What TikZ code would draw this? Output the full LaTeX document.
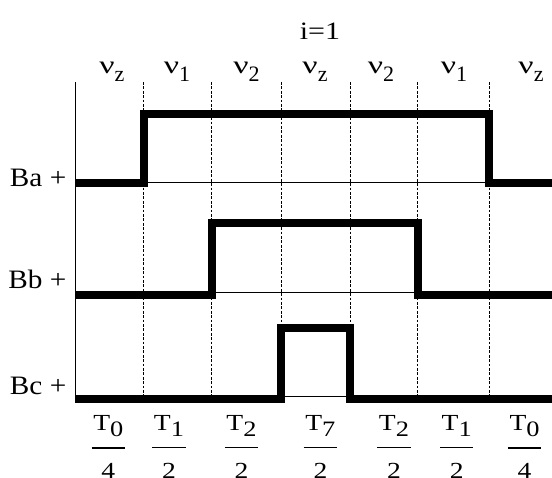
\documentclass[tikz,border=0pt]{standalone}
\usepackage{graphicx}
\usepackage{fontspec}
\setmainfont{Liberation Serif}
\usetikzlibrary{positioning}
% sector vector: wide nu with lowered index
\newcommand{\vlab}[1]{\fontsize{12.5}{14}\selectfont\scalebox{1.35}[1]{ν}\raisebox{-4pt}{\fontsize{11}{13}\selectfont #1}}
% sector duration as a stacked fraction
\newcommand{\durfrac}[2]{\vbox{\baselineskip=0pt\lineskip=0pt\lineskiplimit=0pt
  \halign{\hfil##\hfil\cr \scalebox{1.2}[1]{T\raisebox{-3.3pt}{\fontsize{11}{13}\selectfont #1}}\cr
  \noalign{\kern 4.95pt}\rule{16.7pt}{0.8pt}\cr\noalign{\kern 7.4pt}\scalebox{1.2}[1]{#2}\cr}}}

\begin{document}
\begin{tikzpicture}[x=0.5pt,y=-0.5pt, every node/.style={inner sep=0pt}]
\tikzset{wave/.style={line width=4pt,line join=miter},
  slot/.style={line width=0.5pt,dash pattern=on 1.4pt off 0.8pt},
  level/.style={line width=0.5pt},
  phase/.style={anchor=base east,font=\fontsize{13.3}{15}\selectfont},
  sector/.style={anchor=base},
  dur/.style={anchor=base,font=\fontsize{11.5}{14}\selectfont}}
\useasboundingbox (0,0) rectangle (552,477);
% axis and sector boundaries
\draw[level] (75.7,82) -- (75.7,403);
\draw[slot] (143.7,82) -- (143.7,396);
\draw[slot] (211.7,82) -- (211.7,396);
\draw[slot] (281,82) -- (281,396);
\draw[slot] (350,82) -- (350,396);
\draw[slot] (417.5,82) -- (417.5,396);
\draw[slot] (489,82) -- (489,396);
% phase levels
\draw[level] (75.7,182) -- (552,182);
\draw[level] (75.7,292) -- (552,292);
\draw[level] (75.7,396) -- (552,396);
% switching pulses
\draw[wave] (75.7,183) -- (143.7,183) -- (143.7,114) -- (489,114) -- (489,183) -- (556,183);
\draw[wave] (75.7,295) -- (211.7,295) -- (211.7,223) -- (417.5,223) -- (417.5,295) -- (556,295);
\draw[wave] (75.7,399) -- (281,399) -- (281,328) -- (350,328) -- (350,399) -- (556,399);
% labels
\node[anchor=base,font=\fontsize{12.5}{14}\selectfont] (title) at (320,39.3) {\scalebox{1.2}[1]{i=1}};
\node[phase] (ba) at (66.7,186) {\scalebox{1.1}[1]{Ba +}};
\node[phase] (bb) at (66.7,288) {\scalebox{1.1}[1]{Bb +}};
\node[phase] (bc) at (66.7,394) {\scalebox{1.1}[1]{Bc +}};
\node[sector] (vz0) at (111.9,73.3) {\vlab{z}};
\node[sector] (v10) at (177,73.3) {\vlab{1}};
\node[sector] (v20) at (246.6,73.3) {\vlab{2}};
\node[sector] (vz1) at (315,73.3) {\vlab{z}};
\node[sector] (v21) at (381,73.3) {\vlab{2}};
\node[sector] (v11) at (454,73.3) {\vlab{1}};
\node[sector] (vz2) at (531,73.3) {\vlab{z}};
% sector durations
\node[dur] (t00) at (108.3,478.5) {\durfrac{0}{4}};
\node[dur] (t10) at (169,478.5) {\durfrac{1}{2}};
\node[dur] (t20) at (241.5,478.5) {\durfrac{2}{2}};
\node[dur] (t7) at (320.4,478.5) {\durfrac{7}{2}};
\node[dur] (t21) at (394,478.5) {\durfrac{2}{2}};
\node[dur] (t11) at (456.7,478.5) {\durfrac{1}{2}};
\node[dur] (t01) at (524.6,478.5) {\durfrac{0}{4}};
\end{tikzpicture}
\end{document}
